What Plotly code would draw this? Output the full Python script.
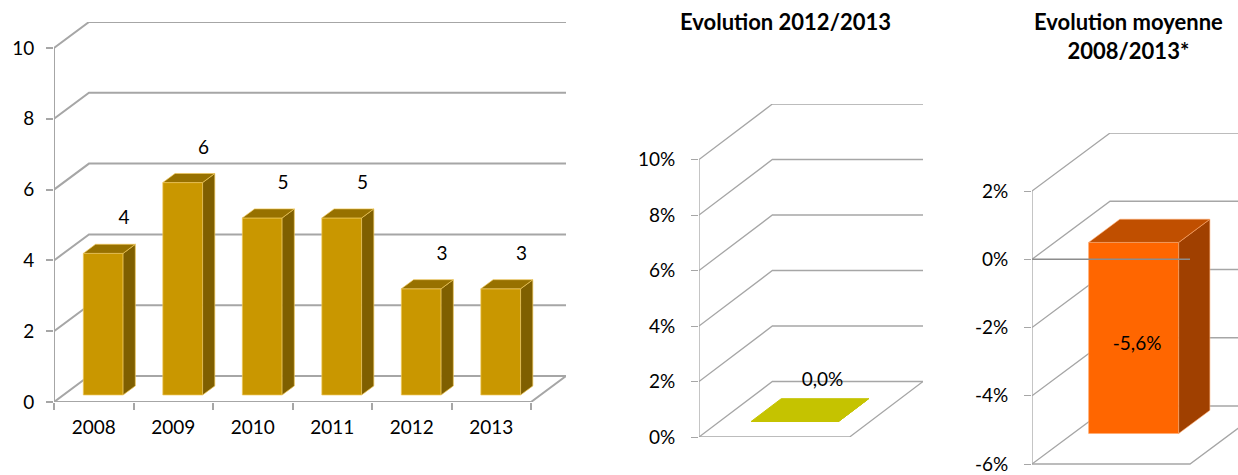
import plotly.graph_objects as go

# ---------------- data ----------------
years = ["2008", "2009", "2010", "2011", "2012", "2013"]
counts = [4, 6, 5, 5, 3, 3]
count_ticks = [0, 2, 4, 6, 8, 10]

evol_title = "Evolution 2012/2013"
evol_1213 = [0.0]            # percent
evol_ticks = [0, 2, 4, 6, 8, 10]

mean_title = "Evolution moyenne<br>2008/2013*"
evol_mean = [-5.6]           # percent
mean_ticks = [-6, -4, -2, 0, 2]

# ---------------- style ----------------
W, H = 1238, 475
FONT = "Lato"
GRID = "#A6A6A6"


def dom_x(a, b):
    return [a / W, min(b / W, 1.0)]


def dom_y(bottom, top):
    return [max(1 - bottom / H, 0.0), 1 - top / H]


fig = go.Figure()

# panel geometry: oblique projection offsets for full depth (in data units)
P1 = dict(ax=("x", "y"), dx=0.44, dy=0.734, zf=0.27, zb=0.62, hw=0.25, lw=2.0)
P2 = dict(ax=("x2", "y2"), dx=0.487, dy=2.0, zf=0.28, zb=0.69, hw=0.29, lw=1.3)
P3 = dict(ax=("x3", "y3"), dx=0.494, dy=1.70, zf=0.29, zb=0.69, hw=0.285, lw=1.3)


def proj(P, x, y, z):
    return x + z * P["dx"], y + z * P["dy"]


def seg(P, pts, color=GRID, width=None):
    xs, ys = [], []
    for (x, y, z) in pts:
        px, py = proj(P, x, y, z)
        xs.append(px)
        ys.append(py)
    fig.add_trace(go.Scatter(x=xs, y=ys, mode="lines",
                             line=dict(color=color, width=width or P["lw"]),
                             xaxis=P["ax"][0], yaxis=P["ax"][1],
                             hoverinfo="skip", showlegend=False))


def face(P, pts, fill, edge):
    xs, ys = [], []
    for (x, y, z) in pts + [pts[0]]:
        px, py = proj(P, x, y, z)
        xs.append(px)
        ys.append(py)
    fig.add_trace(go.Scatter(x=xs, y=ys, mode="lines", fill="toself",
                             fillcolor=fill, line=dict(color=edge, width=1),
                             xaxis=P["ax"][0], yaxis=P["ax"][1],
                             hoverinfo="skip", showlegend=False))


def walls(P, ticks, ncat):
    vmin, vmax = min(ticks), max(ticks)
    for v in ticks:
        seg(P, [(0, v, 0), (0, v, 1), (ncat + 1, v, 1)])
    seg(P, [(0, vmin, 0), (ncat, vmin, 0), (ncat, vmin, 1)])
    seg(P, [(0, vmin, 0), (0, vmax, 0)])


def bar(P, c, v, front, top, side, edge):
    hw, zf, zb = P["hw"], P["zf"], P["zb"]
    lo, hi = min(0, v), max(0, v)
    face(P, [(c - hw, lo, zf), (c + hw, lo, zf), (c + hw, hi, zf), (c - hw, hi, zf)], front, edge)
    face(P, [(c + hw, lo, zf), (c + hw, lo, zb), (c + hw, hi, zb), (c + hw, hi, zf)], side, edge)
    face(P, [(c - hw, hi, zf), (c + hw, hi, zf), (c + hw, hi, zb), (c - hw, hi, zb)], top, edge)


def text(P, xs, ys, labels):
    fig.add_trace(go.Scatter(x=xs, y=ys, mode="text", text=labels,
                             textfont=dict(family=FONT, size=19, color="#000000"),
                             xaxis=P["ax"][0], yaxis=P["ax"][1],
                             hoverinfo="skip", showlegend=False))


def pct(v):
    return f"{v:.1f}".replace(".", ",") + "%"


# ---------------- panel 1 ----------------
n1 = len(years)
walls(P1, count_ticks, n1)
for i, v in enumerate(counts):
    bar(P1, i + 0.5, v, "#C99700", "#977100", "#7F5F00", "rgba(240,200,90,0.7)")
text(P1, [i + 0.88 for i in range(n1)], [v + 1.15 for v in counts], [str(v) for v in counts])

# ---------------- panel 2 ----------------
walls(P2, evol_ticks, 1)
for i, v in enumerate(evol_1213):
    bar(P2, i + 0.5, v, "#C5C300", "#C5C300", "#C5C300", "#C5C300")
text(P2, [i + 0.82 for i in range(len(evol_1213))], [v + 2.0 for v in evol_1213],
     [pct(v) for v in evol_1213])

# ---------------- panel 3 ----------------
walls(P3, mean_ticks, 1)
for i, v in enumerate(evol_mean):
    bar(P3, i + 0.5, v, "#FF6600", "#C04F00", "#A04000", "rgba(255,170,110,0.6)")
seg(P3, [(0, 0, 0), (1, 0, 0)], color="#8C8C8C", width=1.5)
text(P3, [i + 0.665 for i in range(len(evol_mean))], [v * 0.45 for v in evol_mean],
     [pct(v) for v in evol_mean])

# ---------------- axes ----------------
tickfont = dict(family=FONT, size=19, color="#000000")
common_x = dict(showgrid=False, zeroline=False, showline=False, fixedrange=True, automargin=False)
common_y = dict(showgrid=False, zeroline=False, showline=False, fixedrange=True, automargin=False,
                ticks="outside", ticklen=7, tickcolor=GRID, tickfont=tickfont,
                ticklabeloverflow="allow")

PAD3 = 0.2  # small range padding below lowest tick of panel 3 (value units)
fig.update_layout(
    width=W, height=H, autosize=False,
    margin=dict(l=0, r=0, t=0, b=0),
    paper_bgcolor="white", plot_bgcolor="rgba(0,0,0,0)",
    showlegend=False,
    xaxis=dict(domain=dom_x(54, 566), range=[0, n1 + P1["dx"]],
               tickmode="array", tickvals=[i + 0.5 for i in range(n1)], ticktext=years,
               ticks="", tickfont=tickfont, ticklabelstandoff=12,
               minor=dict(tickmode="array", tickvals=list(range(n1 + 1)), ticks="outside",
                          ticklen=7, tickcolor=GRID, tickwidth=2, showgrid=False),
               anchor="y", **common_x),
    yaxis=dict(domain=dom_y(402, 22), range=[0, max(count_ticks) + P1["dy"]],
               tickmode="array", tickvals=count_ticks, ticktext=[str(t) for t in count_ticks],
               tickwidth=2, ticklabelstandoff=8, anchor="x", **common_y),
    xaxis2=dict(domain=dom_x(699, 923), range=[0, 1 + P2["dx"]],
                showticklabels=False, ticks="", anchor="y2", **common_x),
    yaxis2=dict(domain=dom_y(437, 104), range=[0, max(evol_ticks) + P2["dy"]],
                tickmode="array", tickvals=evol_ticks, ticktext=[f"{t}%" for t in evol_ticks],
                tickwidth=1.3, ticklabelstandoff=12, anchor="x2", **common_y),
    xaxis3=dict(domain=dom_x(1032, 1238), range=[0, 206 / 158],
                showticklabels=False, ticks="", anchor="y3", **common_x),
    yaxis3=dict(domain=dom_y(464 + PAD3 * 34.12, 133),
                range=[min(mean_ticks) - PAD3, max(mean_ticks) + P3["dy"]],
                tickmode="array", tickvals=mean_ticks, ticktext=[f"{t}%" for t in mean_ticks],
                tickwidth=1.3, ticklabelstandoff=12, anchor="x3", **common_y),
    annotations=[
        dict(text=f"<b>{evol_title}</b>", x=785 / W, y=1 - 22 / H, xref="paper", yref="paper",
             showarrow=False, xanchor="center", yanchor="middle",
             font=dict(family=FONT, size=22, color="#000000")),
        dict(text=f"<b>{mean_title}</b>", x=1128 / W, y=1 - 36 / H, xref="paper", yref="paper",
             showarrow=False, xanchor="center", yanchor="middle",
             font=dict(family=FONT, size=22, color="#000000")),
    ],
)

fig.write_html("out.html", config={"displayModeBar": False},
               post_script="document.body.style.margin='0';")
